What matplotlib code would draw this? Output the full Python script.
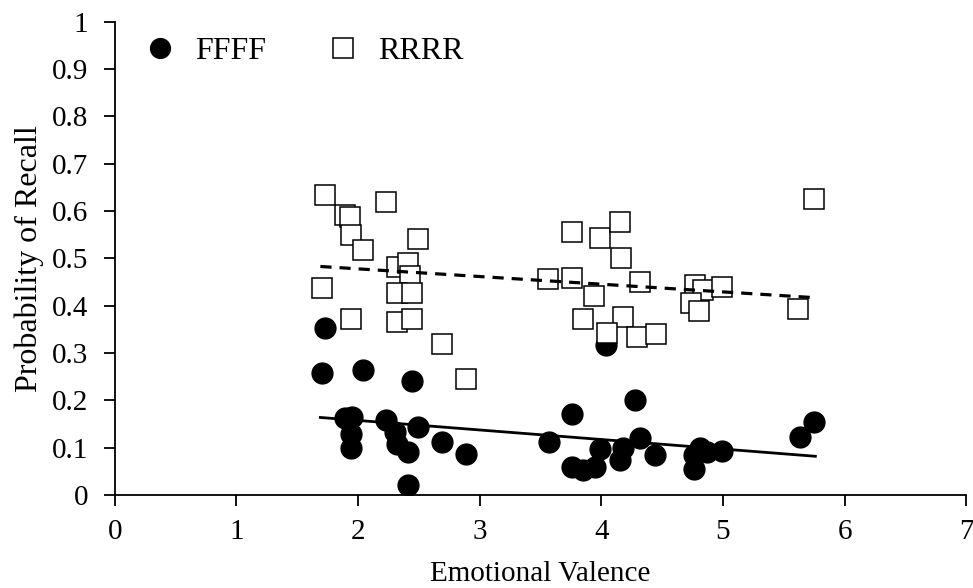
import numpy as np
import matplotlib.pyplot as plt

plt.rcParams['font.family'] = ['Liberation Serif', 'DejaVu Serif']

# valence / recall per item, filled group
fill_x = [1.70, 1.73, 2.04, 2.44, 1.89, 1.95, 1.94, 1.94, 2.23, 2.30, 2.32, 2.41,
          2.49, 2.69, 2.89, 2.41, 4.04, 3.76, 4.28, 3.57, 3.76, 3.85, 3.95, 3.99,
          4.15, 4.18, 4.32, 4.44, 4.76, 4.76, 4.81, 4.87, 4.99, 5.63, 5.75]
fill_y = [0.259, 0.354, 0.264, 0.241, 0.162, 0.164, 0.130, 0.099, 0.158, 0.134,
          0.109, 0.092, 0.144, 0.113, 0.086, 0.021, 0.318, 0.171, 0.201, 0.113,
          0.060, 0.054, 0.060, 0.097, 0.074, 0.099, 0.120, 0.085, 0.055, 0.085,
          0.099, 0.092, 0.094, 0.123, 0.155]

# open group
open_x = [1.73, 1.89, 1.93, 1.94, 2.04, 2.23, 2.49, 1.70, 1.94, 2.32, 2.41, 2.43,
          2.32, 2.44, 2.32, 2.44, 2.69, 2.89, 3.56, 3.76, 3.76, 3.99, 4.15, 4.16,
          4.32, 3.94, 3.85, 4.18, 4.05, 4.29, 4.45, 4.77, 4.84, 4.99, 4.74, 4.80,
          5.62, 5.75]
open_y = [0.634, 0.592, 0.588, 0.550, 0.517, 0.620, 0.541, 0.437, 0.371, 0.481,
          0.490, 0.462, 0.426, 0.428, 0.366, 0.371, 0.319, 0.245, 0.457, 0.458,
          0.555, 0.543, 0.578, 0.500, 0.450, 0.421, 0.372, 0.377, 0.343, 0.335,
          0.340, 0.444, 0.433, 0.439, 0.405, 0.388, 0.393, 0.626]

# linear trend endpoints
trend_x = [1.69, 5.76]
fill_trend = [0.164, 0.082]
open_trend = [0.483, 0.417]

fig = plt.figure(figsize=(9.73, 5.88), dpi=100)
ax = fig.add_axes([0.118, 0.158, 0.875, 0.805])

ax.plot(fill_x, fill_y, 'o', color='black', markersize=15, linestyle='none',
        label='FFFF', zorder=3)
ax.plot(open_x, open_y, 's', markerfacecolor='white', markeredgecolor='black',
        markeredgewidth=1.1, markersize=14.5, linestyle='none', label='RRRR', zorder=4)
ax.plot(trend_x, fill_trend, '-', color='black', linewidth=2, zorder=5)
ax.plot(trend_x, open_trend, color='black', linewidth=2.3, linestyle=(0, (3.5, 2.5)), zorder=5)

ax.set_xlim(0, 7)
ax.set_ylim(0, 1)
ax.set_xticks(range(0, 8))
ax.set_yticks(np.arange(0, 1.01, 0.1))
ax.set_yticklabels(['0'] + ['%.1f' % v for v in np.arange(0.1, 0.95, 0.1)] + ['1'])
ax.spines['top'].set_visible(False)
ax.spines['right'].set_visible(False)
ax.spines['left'].set_linewidth(1.3)
ax.spines['bottom'].set_linewidth(1.3)
ax.tick_params(direction='out', length=8, width=1.3, labelsize=21)
ax.tick_params(axis='x', pad=9)
ax.tick_params(axis='y', pad=11)

ax.set_xlabel('Emotional Valence', fontsize=21, labelpad=12)
ax.set_ylabel('Probability of Recall', fontsize=23, labelpad=6)

ax.legend(loc='center left', bbox_to_anchor=(0.034, 0.937), ncol=2, frameon=False,
          fontsize=23, markerscale=0.95, borderpad=0, borderaxespad=0,
          handlelength=1.0, handletextpad=0.6, columnspacing=1.9)

fig.savefig('out.png', dpi=100)
